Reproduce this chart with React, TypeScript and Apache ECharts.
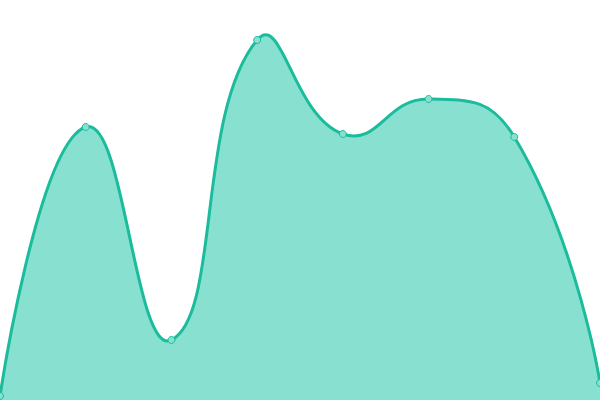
import React, { useEffect, useRef } from "react";
import * as echarts from "echarts";

const categories = ["A", "B", "C", "D", "E", "F", "G", "H"];
const values = [4, 273, 60, 360, 266, 301, 263, 17];

const SMOOTH = 0.5;
const LINE_COLOR = "#1abc9c";
const AREA_COLOR = "#88e0d0";

// cardinal-style bezier through the points (overshoots at peaks)
const buildCurve = (pts: number[][]) => {
  let d = `M${pts[0][0]},${pts[0][1]}`;
  let cp0 = pts[0];
  for (let k = 1; k < pts.length; k++) {
    const p = pts[k];
    const prev = pts[k - 1];
    const next = pts[k + 1];
    let cp1 = p;
    let nextCp0 = p;
    if (next) {
      const vx = next[0] - prev[0];
      const vy = next[1] - prev[1];
      const lenPrev = Math.hypot(p[0] - prev[0], p[1] - prev[1]);
      const lenNext = Math.hypot(next[0] - p[0], next[1] - p[1]);
      const ratio = lenNext / (lenNext + lenPrev);
      cp1 = [p[0] - vx * SMOOTH * (1 - ratio), p[1] - vy * SMOOTH * (1 - ratio)];
      nextCp0 = [p[0] + vx * SMOOTH * ratio, p[1] + vy * SMOOTH * ratio];
    }
    d += ` C${cp0[0]},${cp0[1]} ${cp1[0]},${cp1[1]} ${p[0]},${p[1]}`;
    cp0 = nextCp0;
  }
  return d;
};

const App: React.FC = () => {
  const chartRef = useRef<HTMLDivElement>(null);

  useEffect(() => {
    if (!chartRef.current) return;
    const chart = echarts.init(chartRef.current, null, { renderer: "svg" });

    chart.setOption({
      animation: false,
      grid: { left: 0, right: 0, top: 0, bottom: 0 },
      xAxis: {
        type: "category",
        data: categories,
        boundaryGap: false,
        show: false,
      },
      yAxis: {
        type: "value",
        min: 0,
        max: 400,
        show: false,
      },
      series: [
        {
          type: "custom",
          silent: true,
          data: values.map((v, i) => [i, v]),
          renderItem: (params: any, api: any) => {
            if (params.dataIndex !== 0) return null;
            const pts = values.map((v, i) => api.coord([i, v]));
            const base = api.coord([0, 0])[1];
            const line = buildCurve(pts);
            const last = pts[pts.length - 1];
            const area =
              line + ` L${last[0]},${base} L${pts[0][0]},${base} Z`;
            return {
              type: "group",
              children: [
                {
                  type: "path",
                  shape: { pathData: area },
                  style: { fill: AREA_COLOR },
                },
                {
                  type: "path",
                  shape: { pathData: line },
                  style: { fill: "none", stroke: LINE_COLOR, lineWidth: 3 },
                },
              ],
            };
          },
        },
        {
          type: "line",
          data: values,
          z: 5,
          symbol: "circle",
          symbolSize: 7,
          itemStyle: {
            color: AREA_COLOR,
            borderColor: LINE_COLOR,
            borderWidth: 1,
          },
          lineStyle: { opacity: 0 },
        },
      ],
    });

    return () => {
      chart.dispose();
    };
  }, []);

  return (
    <div
      ref={chartRef}
      style={{ position: "fixed", left: 0, top: 0, width: 600, height: 400 }}
    />
  );
};

export default App;
